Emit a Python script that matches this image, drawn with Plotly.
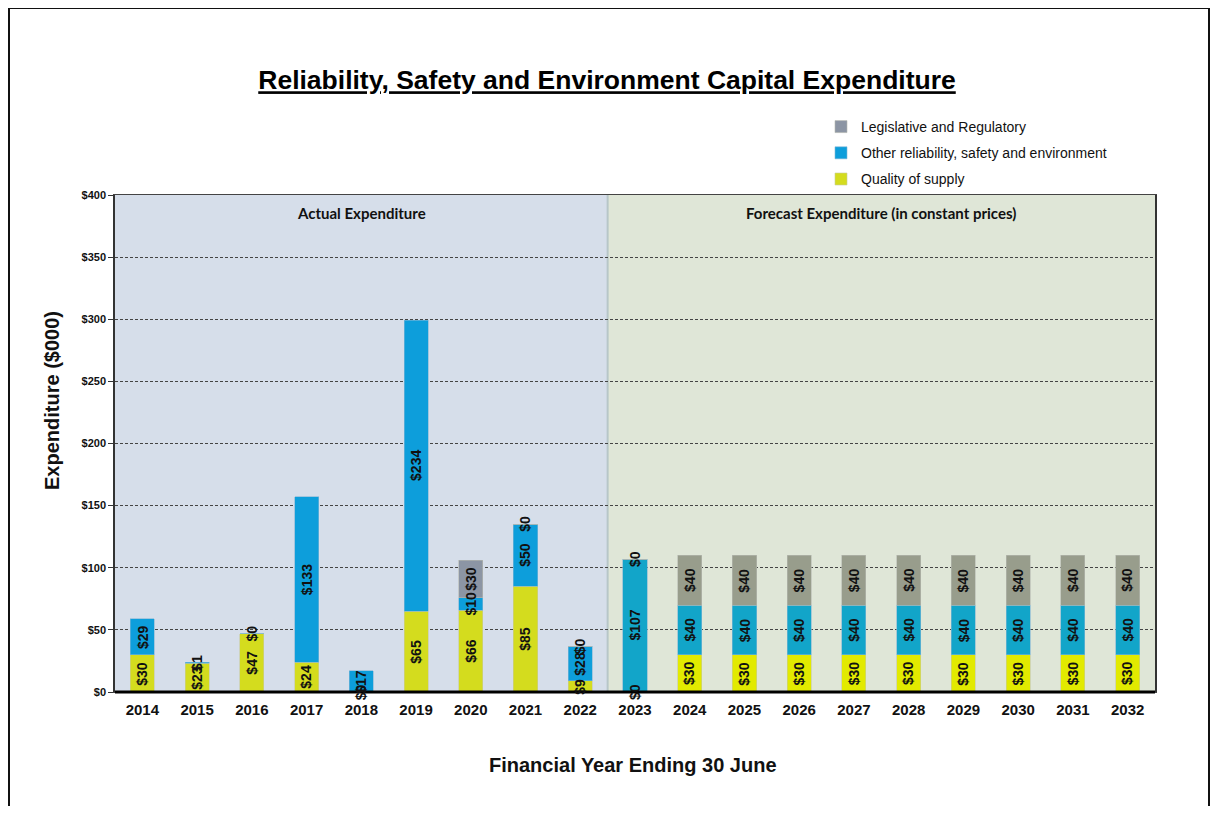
import plotly.graph_objects as go

years = ["2014", "2015", "2016", "2017", "2018", "2019", "2020", "2021", "2022",
         "2023", "2024", "2025", "2026", "2027", "2028", "2029", "2030", "2031", "2032"]
quality = [30, 23, 47, 24, 0, 65, 66, 85, 9, 0, 30, 30, 30, 30, 30, 30, 30, 30, 30]
other = [29, 1, 0, 133, 17, 234, 10, 50, 28, 107, 40, 40, 40, 40, 40, 40, 40, 40, 40]
legislative = [None, None, None, None, None, None, 30, 0, 0, 0, 40, 40, 40, 40, 40, 40, 40, 40, 40]
n_actual = 9

y_ticks = [0, 50, 100, 150, 200, 250, 300, 350, 400]

xpos = list(range(len(years)))

q_cols = ["#d4dc1e"] * n_actual + ["#e2ea00"] * (len(years) - n_actual)
o_cols = ["#0d9edb"] * n_actual + ["#12a5c9"] * (len(years) - n_actual)
l_cols = ["#8c95a4"] * n_actual + ["#989d8c"] * (len(years) - n_actual)

FONT = "Liberation Sans, Arial"

fig = go.Figure()
common = dict(width=0.44, hoverinfo="skip")
fig.add_trace(go.Bar(x=xpos, y=quality, name="Quality of supply",
                     marker=dict(color=q_cols, line=dict(width=0.6, color="#c8cc9a")),
                     legendgroup="q", legendrank=3, **common))
fig.add_trace(go.Bar(x=xpos, y=other, name="Other reliability, safety and environment",
                     marker=dict(color=o_cols, line=dict(width=0.6, color="#7fb5d5")),
                     legendgroup="o", legendrank=2, **common))
fig.add_trace(go.Bar(x=xpos, y=legislative, name="Legislative and Regulatory",
                     marker=dict(color=l_cols, line=dict(width=0.6, color="#b5b9b0")),
                     legendgroup="l", legendrank=1, **common))

# figure is placed with an 8px page margin
W, H = 1202, 798
L, R, T, B = 107, 55, 187, 114
pw, ph = W - L - R, H - T - B


def px(x):
    return (x - L) / pw


def py(y):
    return 1 - (y - T) / ph


shapes = [
    dict(type="rect", xref="x", yref="paper", x0=-0.5, x1=n_actual - 0.5, y0=0, y1=1,
         fillcolor="#d6deea", line=dict(width=0), layer="below"),
    dict(type="rect", xref="x", yref="paper", x0=n_actual - 0.5, x1=len(years) - 0.5, y0=0, y1=1,
         fillcolor="#dfe6d7", line=dict(width=0), layer="below"),
    dict(type="line", xref="x", yref="paper", x0=n_actual - 0.5, x1=n_actual - 0.5, y0=0, y1=1,
         line=dict(color="#b7c6c8", width=2), layer="below"),
    dict(type="line", xref="paper", yref="paper", x0=0, x1=1, y0=0, y1=0,
         line=dict(color="#000000", width=3)),
    # outer frame
    dict(type="rect", xref="paper", yref="paper",
         x0=px(1), x1=px(1201), y0=py(820), y1=py(0),
         line=dict(color="#111111", width=2), fillcolor="rgba(0,0,0,0)"),
]

annotations = [
    dict(x=(n_actual - 1) / 2, y=385.5, xref="x", yref="y", text="<b>Actual Expenditure</b>",
         showarrow=False, font=dict(family="Lato", size=15, color="#111111")),
    dict(x=(n_actual + len(years) - 1) / 2, y=385.5, xref="x", yref="y",
         text="<b>Forecast Expenditure (in constant prices)</b>",
         showarrow=False, font=dict(family="Lato", size=15, color="#111111")),
    dict(x=px(44), y=py(393), xref="paper", yref="paper", text="<b>Expenditure ($000)</b>",
         textangle=-90, showarrow=False, xanchor="center", yanchor="middle",
         font=dict(family=FONT, size=20, color="#111111")),
    dict(x=px(625), y=py(757), xref="paper", yref="paper",
         text="<b>Financial Year Ending 30 June</b>", showarrow=False,
         xanchor="center", yanchor="middle",
         font=dict(family=FONT, size=20, color="#111111")),
]

# value labels (rotated) centred on each segment, drawn on top of all bars
base = [0.0] * len(years)
for series in (quality, other, legislative):
    for i, v in enumerate(series):
        if v is None:
            continue
        annotations.append(dict(x=i, y=base[i] + v / 2, xref="x", yref="y", text=f"<b>${v}</b>",
                                textangle=-90, showarrow=False,
                                font=dict(family=FONT, size=14, color="#111111")))
        base[i] += v

fig.update_layout(
    width=W, height=H,
    margin=dict(l=L, r=R, t=T, b=B),
    paper_bgcolor="white", plot_bgcolor="rgba(0,0,0,0)",
    barmode="stack", bargap=0.56,
    title=dict(text="<b><u>Reliability, Safety and Environment Capital Expenditure</u></b>",
               x=599 / W, xanchor="center", y=1 - 72 / H, yanchor="middle",
               font=dict(family=FONT, size=26.5, color="#000000")),
    font=dict(family=FONT, color="#000000"),
    showlegend=True,
    legend=dict(x=px(813), xanchor="left", y=py(103), yanchor="top",
                traceorder="grouped", tracegroupgap=5, bgcolor="rgba(0,0,0,0)",
                font=dict(family=FONT, size=14, color="#111111"),
                itemwidth=30),
    shapes=shapes,
    annotations=annotations,
    xaxis=dict(range=[-0.5, len(years) - 0.5], tickmode="array", tickvals=xpos,
               ticktext=[f"<b>{y}</b>" for y in years],
               tickfont=dict(family=FONT, size=15, color="#111111"),
               showgrid=False, zeroline=False, showline=True, mirror=True,
               linecolor="#444444", linewidth=1, ticks="", ticklabelstandoff=4),
    yaxis=dict(range=[0, 400], tickmode="array", tickvals=y_ticks,
               ticktext=[f"<b>${v}</b>" for v in y_ticks],
               tickfont=dict(family=FONT, size=11, color="#111111"),
               showgrid=True, gridcolor="#444444", griddash="3px,2px", gridwidth=0.8,
               zeroline=False, showline=True, mirror=True, linecolor="#333333", linewidth=1.5,
               ticks="outside", ticklen=5, tickcolor="#333333"),
)

fig.write_html("out.html")
